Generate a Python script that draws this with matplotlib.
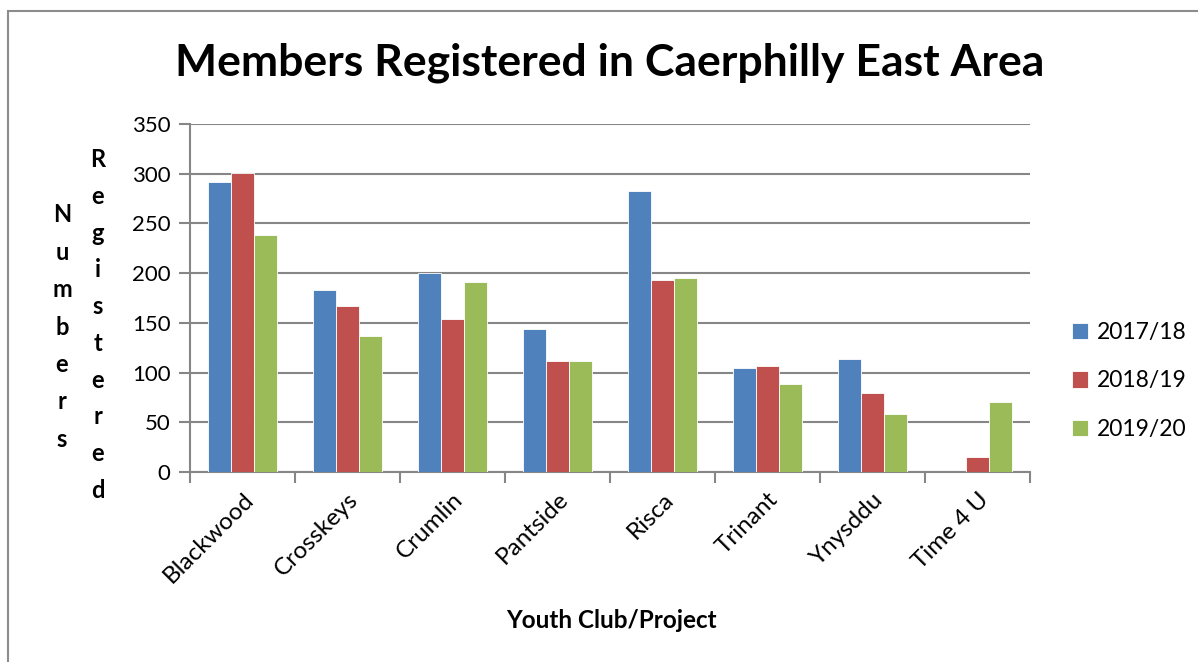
import numpy as np
import matplotlib
matplotlib.use("Agg")
import matplotlib.pyplot as plt
from matplotlib.patches import Rectangle

plt.rcParams['font.family'] = ['Lato', 'DejaVu Sans']

clubs = ["Blackwood", "Crosskeys", "Crumlin", "Pantside", "Risca", "Trinant", "Ynysddu", "Time 4 U"]
years = ["2017/18", "2018/19", "2019/20"]
members_1718 = [292, 183, 200, 144, 283, 105, 114, 0]
members_1819 = [301, 167, 154, 112, 193, 107, 79, 15]
members_1920 = [238, 137, 191, 112, 195, 89, 58, 70]
colours = ["#4F81BD", "#C0504D", "#9BBB59"]

fig = plt.figure(figsize=(11.98, 6.62), dpi=100)
ax = fig.add_axes([190 / 1198, 1 - 472 / 662, 840 / 1198, 348 / 662])

# outer chart frame
fig.patches.append(Rectangle((8 / 1198, -0.1), 1.2, (651 + 66) / 662, transform=fig.transFigure,
                             fill=False, edgecolor="#8c8c8c", linewidth=1.5))

x = np.arange(len(clubs))
w = 0.22
for i, (vals, lab) in enumerate(zip([members_1718, members_1819, members_1920], years)):
    ax.bar(x + (i - 1) * w, vals, width=w, color=colours[i], label=lab,
           edgecolor="white", linewidth=0.6, zorder=3)

ax.set_xlim(-0.5, len(clubs) - 0.5)
ax.set_ylim(0, 350)
ax.set_yticks(range(0, 351, 50))
ax.yaxis.grid(True, color="#868686", linewidth=1.5, zorder=0)
ax.set_axisbelow(True)

ax.set_xticks(x)
ax.set_xticklabels(clubs, rotation=45, ha="right", rotation_mode="anchor", fontsize=17.5)
ax.set_xticks(np.arange(-0.5, len(clubs), 1), minor=True)
ax.tick_params(axis="x", which="major", length=0, pad=12)
ax.tick_params(axis="x", which="minor", length=8, width=1.5, color="#868686", direction="out")
ax.tick_params(axis="y", length=8, width=1.5, color="#868686", labelsize=16, pad=6)

for s in ["top", "right"]:
    ax.spines[s].set_visible(False)
for s in ["left", "bottom"]:
    ax.spines[s].set_color("#868686")
    ax.spines[s].set_linewidth(1.5)

fig.text(610 / 1198, 1 - 63 / 662, "Members Registered in Caerphilly East Area",
         ha="center", va="center", fontsize=32, fontweight="bold")
fig.text(611 / 1198, 1 - 620 / 662, "Youth Club/Project", ha="center", va="center",
         fontsize=17.5, fontweight="bold")

# stacked vertical y-axis titles
fig.text(62 / 1198, 1 - 327 / 662, "\n".join("Numbers"), ha="center", va="center",
         fontsize=17, fontweight="bold", linespacing=1.76)
fig.text(98 / 1198, 1 - 325 / 662, "\n".join("Registered"), ha="center", va="center",
         fontsize=17, fontweight="bold", linespacing=1.72)

fig.legend(loc="center left", bbox_to_anchor=(1072 / 1198, 1 - 381 / 662), frameon=False,
           fontsize=16.5, handlelength=0.7, handleheight=0.7, handletextpad=0.4,
           labelspacing=1.2, borderpad=0, borderaxespad=0)

fig.savefig("out.png", dpi=100)
